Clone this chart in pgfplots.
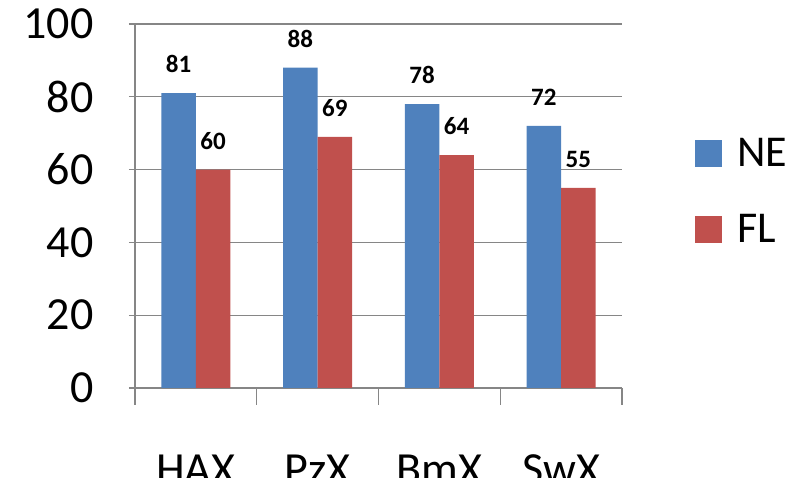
\documentclass[border=0pt]{standalone}
\usepackage{pgfplots}
\pgfplotsset{compat=1.18}
\usepackage{fontspec}
\setmainfont{Carlito}

\definecolor{neblue}{HTML}{4F81BD}
\definecolor{flred}{HTML}{C0504D}
\definecolor{axisgray}{HTML}{868686}

\begin{document}
\begin{tikzpicture}
\begin{axis}[
  at={(0pt,0pt)}, anchor=south west,
  scale only axis,
  width=487pt, height=364pt,
  ybar=0pt,
  bar width=34.5pt,
  xmin=-0.5, xmax=3.5,
  ymin=0, ymax=100,
  axis lines*=left,
  axis line style={axisgray, line width=1.2pt},
  ytick={0,20,40,60,80,100},
  xtick={0,1,2,3},
  xticklabels={HAX,PzX,BmX,SwX},
  minor xtick={-0.5,0.5,1.5,2.5,3.5},
  tick align=outside,
  major tick length=6pt,
  minor tick length=17pt,
  major x tick style={draw=none},
  tick style={axisgray, line width=1.2pt},
  ymajorgrids,
  major grid style={axisgray, line width=1.2pt},
  /pgf/number format/assume math mode=true,
  tick label style={font=\fontsize{46}{50}\selectfont},
  yticklabel style={xshift=-32pt},
  xticklabel style={yshift=-57pt},
  nodes near coords,
  every node near coord/.append style={font=\fontsize{25}{27}\selectfont\bfseries, inner sep=0pt, yshift=20pt, black},
  legend image code/.code={\fill[#1,draw=none] (0pt,-13.5pt) rectangle (27pt,13.5pt);},
  legend style={draw=none, fill=none, at={(1.15,0.54)}, anchor=west,
    font=\fontsize{44}{48}\selectfont, inner sep=0pt,
    row sep=46pt, column sep=0pt,
    nodes={inner sep=0pt}},
  legend cell align=left,
]
\addplot[fill=neblue, draw=none] coordinates {(0,81) (1,88) (2,78) (3,72)};
\addplot[fill=flred, draw=none] coordinates {(0,60) (1,69) (2,64) (3,55)};
\legend{\hspace{15pt}NE,\hspace{15pt}FL}
\end{axis}
\pgfresetboundingbox
\useasboundingbox (-135pt,-90pt) rectangle (665pt,388pt);
\end{tikzpicture}
\end{document}
